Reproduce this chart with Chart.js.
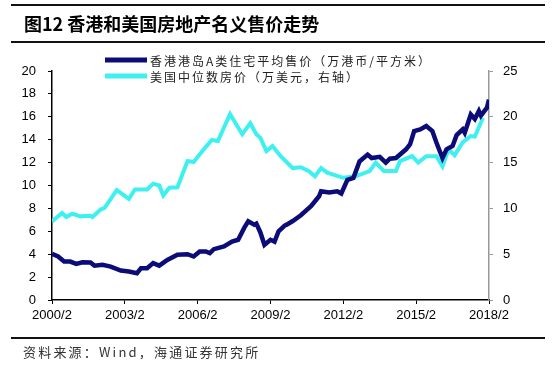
<!DOCTYPE html>
<html>
<head>
<meta charset="utf-8">
<script src="https://cdn.jsdelivr.net/npm/chart.js@4.4.1/dist/chart.umd.min.js"></script>
<style>
  body { margin: 0; width: 554px; height: 379px; background: #fff; position: relative; overflow: hidden; font-family: "Noto Sans CJK SC", sans-serif; }
  #wrap { position: absolute; left: 0; top: 0; width: 554px; height: 379px; }
  .rule { position: absolute; left: 11px; width: 534px; height: 2px; background: #111; }
  #title { position: absolute; left: 24px; top: 14px; font-size: 18px; line-height: 18px; font-weight: bold; color: #000; white-space: nowrap; }
  #source { position: absolute; left: 23px; top: 345px; font-size: 13px; line-height: 14px; letter-spacing: 2.2px; color: #333; white-space: nowrap; }
</style>
</head>
<body>
<div id="wrap"><canvas id="myChart" width="554" height="379"></canvas></div>
<div class="rule" style="top:4px"></div>
<div id="title">图12 香港和美国房地产名义售价走势</div>
<div class="rule" style="top:41px"></div>
<div class="rule" style="top:337px"></div>
<div id="source">资料来源：Wind，海通证券研究所</div>
<script>
// months counted from 2000/2
const xTickLabels = ['2000/2', '2003/2', '2006/2', '2009/2', '2012/2', '2015/2', '2018/2'];

const hkLabel = '香港港岛A类住宅平均售价（万港币/平方米）';
const hkMonths = [0, 3, 6, 9, 12, 15, 19, 21, 25, 29, 34, 38, 42, 44, 47, 50, 53, 57, 62, 67, 70, 73, 76, 78, 80, 85, 89, 92, 95, 97, 100, 101, 103, 105, 108, 110, 112, 115, 116, 119, 123, 128, 132, 133, 137, 141, 143, 146, 149, 152, 156, 158, 162, 165, 167, 170, 175, 177, 179, 182, 185, 188, 190, 193, 195, 198, 200, 203, 204, 207, 209, 211, 212, 215, 216];
const hkPrice = [4.03, 3.8, 3.36, 3.36, 3.16, 3.3, 3.27, 3.0, 3.07, 2.92, 2.57, 2.49, 2.34, 2.78, 2.78, 3.22, 3.0, 3.5, 3.95, 4.0, 3.8, 4.24, 4.24, 4.1, 4.44, 4.68, 5.1, 5.26, 6.3, 6.87, 6.58, 6.67, 5.9, 4.82, 5.26, 5.1, 6.0, 6.5, 6.58, 6.9, 7.4, 8.2, 9.06, 9.5, 9.4, 9.5, 9.3, 10.5, 10.67, 12.1, 12.7, 12.4, 12.5, 12.0, 12.34, 12.4, 13.16, 13.6, 14.76, 14.9, 15.2, 14.76, 13.75, 12.4, 13.16, 13.45, 14.4, 14.9, 14.6, 16.2, 15.8, 16.5, 16.1, 16.8, 17.5];

const usLabel = '美国中位数房价（万美元，右轴）';
const usMonths = [0, 5, 7, 10, 14, 19, 20, 24, 26, 32, 38, 41, 47, 50, 53, 55, 58, 62, 67, 70, 75, 79, 82, 88, 94, 98, 101, 103, 106, 109, 113, 119, 123, 127, 130, 133, 136, 144, 150, 157, 160, 164, 170, 172, 178, 181, 185, 190, 193, 196, 199, 203, 207, 209, 213];
const usPrice = [8.58, 9.5, 9.07, 9.43, 9.13, 9.2, 9.07, 9.87, 10.05, 12.0, 11.04, 12.06, 12.06, 12.7, 12.5, 11.4, 12.25, 12.3, 15.17, 15.06, 16.45, 17.47, 17.36, 20.3, 18.1, 19.3, 18.1, 17.7, 16.26, 16.8, 15.7, 14.4, 14.5, 14.07, 13.5, 14.4, 13.9, 13.34, 13.5, 14.07, 15.0, 14.07, 14.07, 15.16, 15.7, 15.0, 15.7, 15.7, 14.6, 16.45, 15.8, 17.2, 17.9, 17.85, 19.9];

const tickFont = { family: '"Liberation Sans", Arial, sans-serif', size: 13 };

// legend drawn by hand: two rows, line sample then spaced text
const legendRows = {
  id: 'legendRows',
  afterDraw(chart) {
    const ctx = chart.ctx;
    const rows = [60, 76];
    ctx.save();
    chart.data.datasets.forEach((ds, i) => {
      ctx.strokeStyle = ds.borderColor;
      ctx.lineWidth = 5;
      ctx.beginPath();
      ctx.moveTo(105, rows[i]);
      ctx.lineTo(147, rows[i]);
      ctx.stroke();
      ctx.fillStyle = '#222';
      ctx.font = '12px "Noto Sans CJK SC", sans-serif';
      ctx.letterSpacing = '2px';
      ctx.textBaseline = 'middle';
      ctx.fillText(ds.label, 150, rows[i] + 1);
    });
    ctx.restore();
  }
};

new Chart(document.getElementById('myChart'), {
  type: 'line',
  data: {
    datasets: [
      {
        label: hkLabel,
        data: hkMonths.map((m, i) => ({ x: m, y: hkPrice[i] })),
        borderColor: '#0c0c78',
        borderWidth: 4.5,
        pointRadius: 0,
        yAxisID: 'y',
      },
      {
        label: usLabel,
        data: usMonths.map((m, i) => ({ x: m, y: usPrice[i] })),
        borderColor: '#3ff0f0',
        borderWidth: 4,
        pointRadius: 0,
        yAxisID: 'y2',
      }
    ]
  },
  options: {
    responsive: false,
    animation: false,
    layout: { padding: { top: 71, left: 0, right: 0, bottom: 0 } },
    plugins: { legend: { display: false }, tooltip: { enabled: false } },
    scales: {
      x: {
        type: 'linear',
        min: 0,
        max: 216,
        afterFit: (s) => { s.height = 79; },
        grid: { drawOnChartArea: false, tickLength: 4, color: '#000' },
        border: { color: '#000', width: 1.5 },
        ticks: {
          stepSize: 36,
          padding: 4,
          color: '#000',
          font: tickFont,
          maxRotation: 0,
          callback: (v) => xTickLabels[v / 36]
        }
      },
      y: {
        position: 'left',
        min: 0,
        max: 20,
        afterFit: (s) => { s.width = 52; },
        grid: { drawOnChartArea: false, tickLength: 4, color: '#000' },
        border: { color: '#000', width: 1.5 },
        ticks: { stepSize: 2, padding: 12, color: '#000', font: tickFont }
      },
      y2: {
        position: 'right',
        min: 0,
        max: 25,
        afterFit: (s) => { s.width = 65; },
        grid: { drawOnChartArea: false, tickLength: 4, color: '#999' },
        border: { color: '#999', width: 1.5 },
        ticks: { stepSize: 5, padding: 10, color: '#000', font: tickFont }
      }
    }
  },
  plugins: [legendRows]
});
</script>
</body>
</html>
